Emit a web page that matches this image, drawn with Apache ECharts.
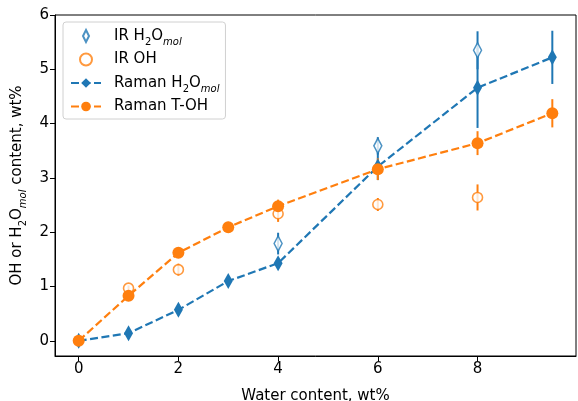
<!DOCTYPE html>
<html>
<head>
<meta charset="utf-8">
<script src="https://cdn.jsdelivr.net/npm/echarts@6/dist/echarts.min.js"></script>
<style>
  html, body { margin: 0; padding: 0; background: #fff; }
  #chart { width: 578px; height: 401px; }
</style>
</head>
<body>
<div id="chart"></div>
<script>
const blue = '#1f77b4'
const orange = '#ff7f0e'

// Raman measurements
const ramanX = [0, 1, 2, 3, 4, 6, 8, 9.5]
const ramanH2O = [0, 0.14, 0.57, 1.1, 1.43, 3.21, 4.66, 5.22]
const ramanH2OErr = [0.07, 0.08, 0.1, 0.08, 0.1, 0.25, 0.74, 0.49]
const ramanOH = [0, 0.83, 1.62, 2.09, 2.48, 3.16, 3.64, 4.19]
const ramanOHErr = [0.05, 0.05, 0.07, 0.1, 0.12, 0.2, 0.22, 0.26]

// IR measurements
const irH2OX = [4, 6, 8]
const irH2O = [1.79, 3.59, 5.35]
const irH2OErr = [0.2, 0.16, 0.35]
const irOHX = [1, 2, 4, 6, 8]
const irOH = [0.97, 1.31, 2.34, 2.51, 2.64]
const irOHErr = [0.05, 0.11, 0.15, 0.12, 0.24]

const xTicks = [0, 2, 4, 6, 8]
const yTicks = [0, 1, 2, 3, 4, 5, 6]

const pairs = (xs, ys) => xs.map((x, i) => [x, ys[i]])
const errPairs = (xs, ys, es) => xs.map((x, i) => [x, ys[i] - es[i], ys[i] + es[i]])

const errSeries = (data, color) => ({
  type: 'custom',
  silent: true,
  data: data,
  encode: {x: 0, y: [1, 2]},
  renderItem: (params, api) => {
    const p1 = api.coord([api.value(0), api.value(1)])
    const p2 = api.coord([api.value(0), api.value(2)])
    return {
      type: 'line',
      shape: {x1: p1[0], y1: p1[1], x2: p2[0], y2: p2[1]},
      style: {stroke: color, lineWidth: 2}
    }
  }
})

const diamond = 'path://M5,0 L10,10 L5,20 L0,10 Z'

const rich = {
  sub: {fontSize: 10, verticalAlign: 'bottom', lineHeight: 22, fontFamily: 'DejaVu Sans'},
  subi: {fontSize: 10, fontStyle: 'italic', verticalAlign: 'bottom', lineHeight: 22, fontFamily: 'DejaVu Sans'}
}

const labels = {
  'IR H2O': 'IR H{sub|2}O{subi|mol}',
  'IR OH': 'IR OH',
  'Raman H2O': 'Raman H{sub|2}O{subi|mol}',
  'Raman T-OH': 'Raman T-OH'
}

const chart = echarts.init(document.getElementById('chart'))
chart.setOption({
  animation: false,
  textStyle: {fontFamily: 'DejaVu Sans'},
  grid: {
    left: 55, right: 2, top: 15, bottom: 45,
    outerBoundsMode: 'none', containLabel: false,
    show: true, borderColor: '#000', borderWidth: 1, backgroundColor: 'transparent'
  },
  legend: {
    orient: 'vertical',
    left: 63, top: 22,
    padding: [3, 6, 3, 7],
    itemGap: 3,
    itemWidth: 30,
    itemHeight: 12,
    borderColor: '#d0d0d0',
    borderWidth: 1,
    borderRadius: 3,
    backgroundColor: 'rgba(255,255,255,0.8)',
    data: ['IR H2O', 'IR OH', 'Raman H2O', 'Raman T-OH'],
    formatter: name => labels[name],
    textStyle: {fontSize: 15, color: '#000', lineHeight: 19, padding: [0, 0, 0, 8], rich: rich}
  },
  xAxis: {
    type: 'value',
    min: -0.475, max: 9.975,
    name: 'Water content, wt%',
    nameLocation: 'middle',
    nameGap: 33,
    nameTextStyle: {fontSize: 15, color: '#000'},
    splitLine: {show: false},
    axisLine: {show: true, onZero: false, lineStyle: {color: '#000'}},
    axisTick: {show: true, length: 5, lineStyle: {color: '#000'}, customValues: xTicks},
    axisLabel: {fontSize: 15, color: '#000', margin: 6, customValues: xTicks}
  },
  yAxis: {
    type: 'value',
    min: -0.28, max: 6,
    name: 'OH or H{sub|2}O{subi|mol} content, wt%',
    nameLocation: 'middle',
    nameGap: 25,
    nameTextStyle: {fontSize: 15, color: '#000', rich: rich},
    splitLine: {show: false},
    axisLine: {show: true, onZero: false, lineStyle: {color: '#000'}},
    axisTick: {show: true, length: 5, lineStyle: {color: '#000'}, customValues: yTicks},
    axisLabel: {fontSize: 15, color: '#000', margin: 6, customValues: yTicks}
  },
  series: [
    errSeries(errPairs(irH2OX, irH2O, irH2OErr), blue),
    {
      name: 'IR H2O', type: 'scatter', data: pairs(irH2OX, irH2O),
      symbol: diamond, symbolSize: [8, 15],
      itemStyle: {color: '#fff', borderColor: blue, borderWidth: 1.6}
    },
    errSeries(errPairs(irOHX, irOH, irOHErr), orange),
    {
      name: 'IR OH', type: 'scatter', data: pairs(irOHX, irOH),
      symbol: 'circle', symbolSize: 10,
      itemStyle: {color: '#fff', borderColor: orange, borderWidth: 1.6}
    },
    errSeries(errPairs(ramanX, ramanH2O, ramanH2OErr), blue),
    {
      name: 'Raman H2O', type: 'line', data: pairs(ramanX, ramanH2O),
      symbol: diamond, symbolSize: [9, 16], showAllSymbol: true,
      lineStyle: {color: blue, width: 2.2, type: [8, 3.5]},
      itemStyle: {color: blue}
    },
    errSeries(errPairs(ramanX, ramanOH, ramanOHErr), orange),
    {
      name: 'Raman T-OH', type: 'line', data: pairs(ramanX, ramanOH),
      symbol: 'circle', symbolSize: 12, showAllSymbol: true,
      lineStyle: {color: orange, width: 2.2, type: [8, 3.5]},
      itemStyle: {color: orange}
    }
  ]
})
</script>
</body>
</html>
